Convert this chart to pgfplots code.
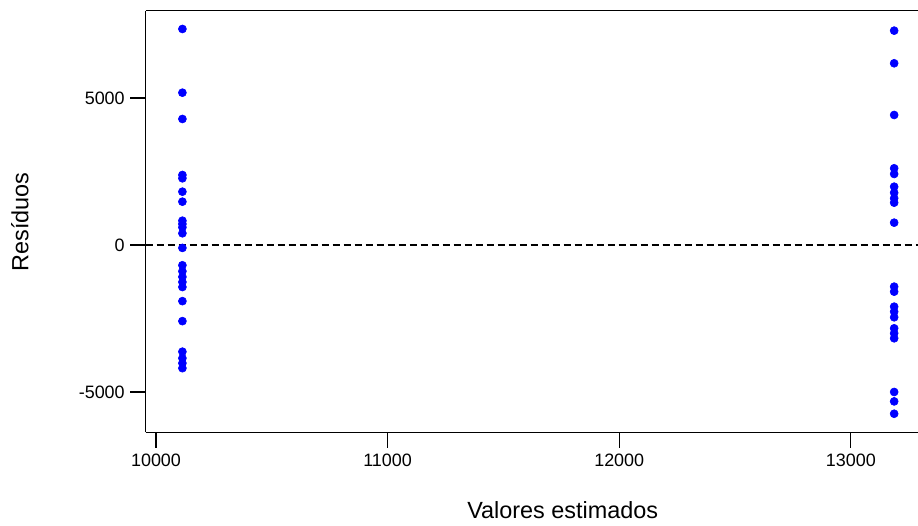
\documentclass[border=0pt]{standalone}
\usepackage{pgfplots}
\pgfplotsset{compat=1.18}
\usepackage{fontspec}
\setmainfont{Liberation Sans}
\begin{document}
\begin{tikzpicture}[x=1bp,y=1bp]
\useasboundingbox (-145.7,-93.7) rectangle (772.3,432.3);
\begin{axis}[
  at={(0,0)}, anchor=south west,
  scale only axis,
  width=772.3bp, height=421.6bp,
  xmin=9955.5, xmax=13290,
  ymin=-6371, ymax=7969,
  axis x line=bottom, axis y line=left,
  axis line style={-, line width=1.2bp, black},
  tick align=outside,
  major tick length=15.5bp,
  every tick/.style={line width=1.2bp, black},
  scaled x ticks=false, scaled y ticks=false,
  xtick={10000,11000,12000,13000},
  ytick={-5000,0,5000},
  /pgf/number format/.cd, 1000 sep={}, assume math mode=true,
  /pgfplots/.cd,
  tick label style={font=\fontsize{18}{20}\selectfont},
  xticklabel style={yshift=-3bp},
  yticklabel style={xshift=-2bp},
  label style={font=\fontsize{23.5}{26}\selectfont},
  xlabel={Valores estimados},
  ylabel={Resíduos},
  xlabel style={at={(axis description cs:0.540,-0.204)}, anchor=base},
  ylabel style={at={(axis description cs:-0.152,0.499)}, anchor=base, rotate=0},
  clip=false,
]
\draw[line width=1.2bp] (rel axis cs:0,1) -- (rel axis cs:1,1);
\addplot[black, line width=1.2bp, dash pattern=on 7bp off 4bp] coordinates {(9955.5,0) (13290,0)};
\addplot[only marks, mark=*, mark size=4bp, mark options={fill=blue, draw=blue, line width=0.6bp}] coordinates {
(10114,7347) (10114,5180) (10114,4286) (10114,2381) (10114,2268) (10114,1813) (10114,1473)
(10114,826) (10114,714) (10114,600) (10114,398) (10114,-100) (10114,-690) (10114,-895)
(10114,-1085) (10114,-1260) (10114,-1430) (10114,-1910) (10114,-2590) (10114,-3629)
(10114,-3850) (10114,-4020) (10114,-4190)
(13187,7290) (13187,6180) (13187,4422) (13187,2609) (13187,2415) (13187,1983) (13187,1779)
(13187,1588) (13187,1439) (13187,759) (13187,-1417) (13187,-1588) (13187,-2098) (13187,-2268)
(13187,-2459) (13187,-2834) (13187,-3004) (13187,-3174) (13187,-5000) (13187,-5320) (13187,-5740)
};
\end{axis}
\end{tikzpicture}
\end{document}
